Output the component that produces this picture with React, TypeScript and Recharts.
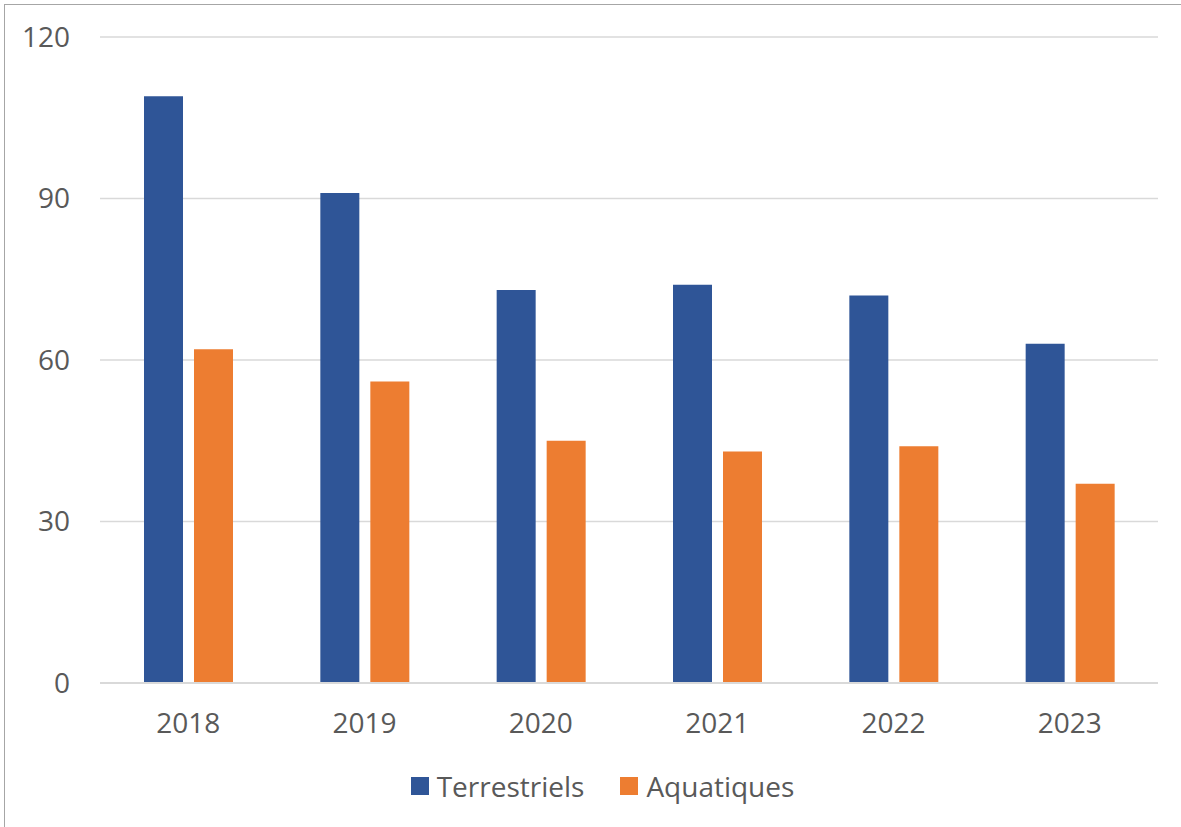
import React from "react";
import { BarChart, Bar, XAxis, YAxis, CartesianGrid, Legend } from "recharts";

const years = ["2018", "2019", "2020", "2021", "2022", "2023"];
const terrestriels = [109, 91, 73, 74, 72, 63];
const aquatiques = [62, 56, 45, 43, 44, 37];
const yTicks = [0, 30, 60, 90, 120];

const BLUE = "#2f5597";
const ORANGE = "#ed7d31";
const TEXT = "#595959";
const FONT = "'Open Sans', sans-serif";

const data = years.map((year, i) => ({
  year,
  Terrestriels: terrestriels[i],
  Aquatiques: aquatiques[i],
}));

const LegendContent = () => (
  <div style={{ display: "flex", justifyContent: "center", alignItems: "center", fontFamily: FONT, fontSize: 28, color: TEXT }}>
    {[
      { name: "Terrestriels", color: BLUE },
      { name: "Aquatiques", color: ORANGE },
    ].map((item, i) => (
      <div key={item.name} style={{ display: "flex", alignItems: "center", marginLeft: i > 0 ? 36 : 0 }}>
        <span style={{ display: "inline-block", width: 18, height: 18, background: item.color, marginRight: 8 }} />
        <span>{item.name}</span>
      </div>
    ))}
  </div>
);

export default function App() {
  return (
    <div style={{ position: "fixed", left: 0, top: 0, width: 1181, height: 827, background: "#fff", overflow: "hidden" }}>
      <div style={{ position: "absolute", left: 4, top: 4, width: 1200, height: 850, border: "1.5px solid #a6a6a6", boxSizing: "border-box" }} />
      <BarChart
        width={1181}
        height={827}
        data={data}
        margin={{ top: 37, right: 23, left: 0, bottom: 20 }}
        barSize={39}
        barGap={11}
        style={{ position: "absolute", left: 0, top: 0 }}
      >
        <CartesianGrid vertical={false} stroke="#d9d9d9" strokeWidth={1.5} />
        <XAxis
          dataKey="year"
          height={124}
          axisLine={{ stroke: "#d9d9d9", strokeWidth: 2 }}
          tickLine={false}
          tickSize={0}
          tickMargin={30}
          tick={{ fill: TEXT, fontSize: 28, fontFamily: FONT }}
        />
        <YAxis
          width={100}
          domain={[0, 120]}
          ticks={yTicks}
          axisLine={false}
          tickLine={false}
          tickSize={0}
          tickMargin={30}
          tick={{ fill: TEXT, fontSize: 28, fontFamily: FONT }}
        />
        <Legend
          verticalAlign="middle"
          align="center"
          content={<LegendContent />}
          wrapperStyle={{ top: 767, left: 12, width: 1181 }}
        />
        <Bar dataKey="Terrestriels" fill={BLUE} isAnimationActive={false} />
        <Bar dataKey="Aquatiques" fill={ORANGE} isAnimationActive={false} />
      </BarChart>
    </div>
  );
}
